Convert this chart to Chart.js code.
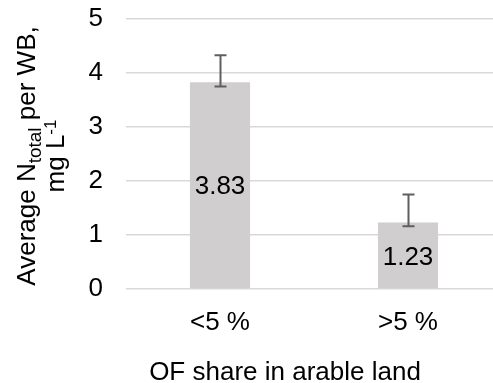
<!DOCTYPE html>
<html>
<head>
<meta charset="utf-8">
<script src="https://cdn.jsdelivr.net/npm/chart.js@4/dist/chart.umd.min.js"></script>
<style>
  html, body { margin: 0; padding: 0; background: #fff; overflow: hidden; }
  #wrap { position: relative; width: 502px; height: 383px; }
</style>
</head>
<body>
<div id="wrap"><canvas id="c"></canvas></div>
<script>
// Mean total nitrogen per water body, grouped by organic-farming share
const categories = ['<5 %', '>5 %'];
const meanNtotal = [3.83, 1.23];
const errorLow = [3.75, 1.16];
const errorHigh = [4.33, 1.75];
const yTickValues = [0, 1, 2, 3, 4, 5];
const xAxisTitle = 'OF share in arable land';
// y title: two lines of rich text (subscript / superscript runs)
const yTitleLines = [
  [{ t: 'Average N' }, { t: 'total', sub: true }, { t: ' per WB,' }],
  [{ t: 'mg L' }, { t: '-1', sup: true }]
];

const FONT = "'Liberation Sans', Arial, sans-serif";
const SIZE = 26;
const SUB_SIZE = 19;
const SUP_SIZE = 17;
const TEXT = '#000000';

function runFont(r) {
  const s = r.sub ? SUB_SIZE : (r.sup ? SUP_SIZE : SIZE);
  return s + 'px ' + FONT;
}

function drawRich(ctx, runs, cx, baseY) {
  let total = 0;
  runs.forEach(r => { ctx.font = runFont(r); total += ctx.measureText(r.t).width; });
  let x = cx - total / 2;
  runs.forEach(r => {
    ctx.font = runFont(r);
    const dy = r.sub ? 6 : (r.sup ? -8 : 0);
    ctx.fillText(r.t, x, baseY + dy);
    x += ctx.measureText(r.t).width;
  });
}

const annotations = {
  id: 'annotations',
  afterDatasetsDraw(chart) {
    const ctx = chart.ctx;
    const y = chart.scales.y;
    const meta = chart.getDatasetMeta(0);
    ctx.save();
    // value labels centred inside each bar
    ctx.fillStyle = TEXT;
    ctx.font = SIZE + 'px ' + FONT;
    ctx.textAlign = 'center';
    ctx.textBaseline = 'middle';
    meta.data.forEach((bar, i) => {
      ctx.fillText(meanNtotal[i].toFixed(2), bar.x, (bar.y + bar.base) / 2 + 2);
    });
    // error bars
    ctx.strokeStyle = '#5f5f5f';
    ctx.lineWidth = 2;
    meta.data.forEach((bar, i) => {
      const x = Math.round(bar.x) + 0.5;
      const yh = y.getPixelForValue(errorHigh[i]);
      const yl = y.getPixelForValue(errorLow[i]);
      ctx.beginPath();
      ctx.moveTo(x, yh); ctx.lineTo(x, yl);
      ctx.moveTo(x - 6, yh); ctx.lineTo(x + 6, yh);
      ctx.moveTo(x - 6, yl); ctx.lineTo(x + 6, yl);
      ctx.stroke();
    });
    ctx.restore();
  },
  afterDraw(chart) {
    const ctx = chart.ctx;
    const area = chart.chartArea;
    ctx.save();
    ctx.fillStyle = TEXT;
    ctx.textBaseline = 'alphabetic';
    // x axis title
    ctx.font = SIZE + 'px ' + FONT;
    ctx.textAlign = 'center';
    ctx.fillText(xAxisTitle, area.left + 159, 380);
    ctx.textAlign = 'left';
    // y axis title, rotated
    const cy = (area.top + area.bottom) / 2 + 2;
    ctx.translate(0, cy);
    ctx.rotate(-Math.PI / 2);
    drawRich(ctx, yTitleLines[0], 0, 35);
    drawRich(ctx, yTitleLines[1], 0, 64);
    ctx.restore();
  }
};

new Chart(document.getElementById('c'), {
  type: 'bar',
  data: {
    labels: categories,
    datasets: [{
      data: meanNtotal,
      backgroundColor: '#d0cece',
      borderWidth: 0,
      barPercentage: 0.32,
      categoryPercentage: 1
    }]
  },
  options: {
    responsive: true,
    maintainAspectRatio: false,
    animation: false,
    devicePixelRatio: 1,
    layout: { padding: { top: 19, left: 0, right: 0, bottom: 0 } },
    plugins: { legend: { display: false }, tooltip: { enabled: false } },
    scales: {
      x: {
        grid: { display: false },
        border: { display: false },
        ticks: { color: TEXT, font: { family: FONT, size: SIZE }, padding: 10 },
        afterFit(s) { s.height = 94; s.paddingLeft = 0; s.paddingRight = 0; }
      },
      y: {
        min: 0,
        max: 5,
        afterBuildTicks(s) { s.ticks = yTickValues.map(v => ({ value: v })); },
        grid: { color: '#d9d9d9', lineWidth: 1.5, drawTicks: false },
        border: { display: false },
        ticks: { color: TEXT, font: { family: FONT, size: SIZE }, padding: 23 },
        afterFit(s) { s.width = 126; s.paddingTop = 0; s.paddingBottom = 0; }
      }
    }
  },
  plugins: [annotations]
});
</script>
</body>
</html>
